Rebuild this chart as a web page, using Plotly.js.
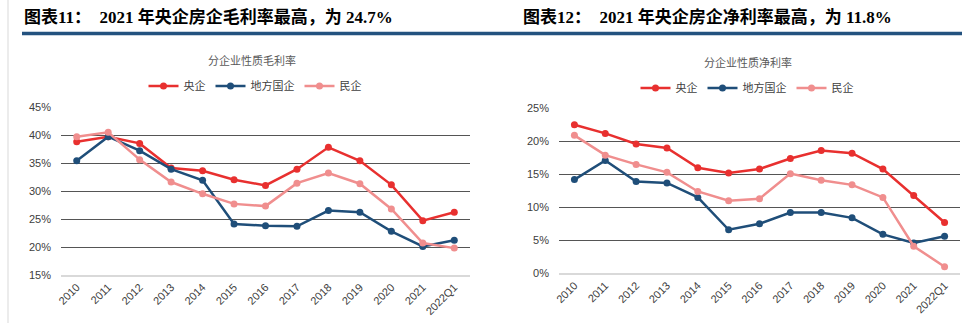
<!DOCTYPE html>
<html>
<head>
<meta charset="utf-8">
<script src="https://cdn.plot.ly/plotly-3.0.1.min.js"></script>
<style>html,body{margin:0;padding:0;background:#fff;}#chart{width:962px;height:323px;}</style>
</head>
<body>
<div id="chart"></div>
<script>
// ---- data ----
const categories = ['2010','2011','2012','2013','2014','2015','2016','2017','2018','2019','2020','2021','2022Q1'];
const seriesNames = ['央企','地方国企','民企'];

// 毛利率 (%)
const grossCentral = [38.8, 39.7, 38.5, 34.1, 33.6, 32.0, 31.0, 33.9, 37.8, 35.4, 31.1, 24.7, 26.2];
const grossLocal   = [35.4, 39.7, 37.2, 33.9, 31.9, 24.1, 23.8, 23.7, 26.5, 26.2, 22.8, 20.1, 21.2];
const grossPrivate = [39.7, 40.5, 35.6, 31.6, 29.5, 27.7, 27.3, 31.4, 33.2, 31.3, 26.8, 20.7, 19.8];

// 净利率 (%)
const netCentral = [22.5, 21.2, 19.6, 19.0, 16.0, 15.2, 15.8, 17.4, 18.6, 18.2, 15.8, 11.8, 7.7];
const netLocal   = [14.2, 17.1, 13.9, 13.7, 11.5, 6.6, 7.5, 9.2, 9.2, 8.4, 5.9, 4.6, 5.6];
const netPrivate = [20.9, 17.9, 16.5, 15.3, 12.4, 11.0, 11.3, 15.1, 14.1, 13.4, 11.5, 4.1, 1.0];

const titles = ['图表11：  2021 年央企房企毛利率最高，为 24.7%', '图表12：  2021 年央企房企净利率最高，为 11.8%'];
const subtitles = ['分企业性质毛利率', '分企业性质净利率'];

// ---- style ----
const colors = ['#E8302F', '#1F4E79', '#F08E8E'];
const W = 962, H = 323;
const px = v => v / W, py = v => (H - v) / H;

function mk(y, i, xa, ya, lg) {
  return {
    x: categories, y: y, name: seriesNames[i], type: 'scatter', mode: 'lines+markers',
    xaxis: xa, yaxis: ya, legend: lg,
    line: {color: colors[i], width: 2.5},
    marker: {color: colors[i], size: 7},
    hoverinfo: 'skip'
  };
}

const traces = [
  mk(grossCentral, 0, 'x', 'y', 'legend'),
  mk(grossLocal, 1, 'x', 'y', 'legend'),
  mk(grossPrivate, 2, 'x', 'y', 'legend'),
  mk(netCentral, 0, 'x2', 'y2', 'legend2'),
  mk(netLocal, 1, 'x2', 'y2', 'legend2'),
  mk(netPrivate, 2, 'x2', 'y2', 'legend2')
];

const tickFont = {family: 'Liberation Sans, Arial, sans-serif', size: 11, color: '#404040'};
function xax(dom, anchor) {
  return {domain: dom, anchor: anchor, type: 'category', range: [-0.5, categories.length - 0.5],
    tickangle: -45, tickfont: tickFont,
    showgrid: false, showline: true, linecolor: '#d9d9d9', linewidth: 1.5, ticks: '', fixedrange: true, layer: 'above traces'};
}
function yax(dom, anchor, range) {
  return {domain: dom, anchor: anchor, range: range, dtick: 5, ticksuffix: '%', tickfont: tickFont,
    showgrid: true, gridcolor: '#555555', gridwidth: 1, zeroline: false, showline: false,
    ticks: '', ticklabelstandoff: 9, fixedrange: true};
}

const titleFont = {family: 'Liberation Serif, Noto Sans CJK SC, serif', size: 17, color: '#000', weight: 'bold'};
const subFont = {family: 'Noto Sans CJK SC, sans-serif', size: 11, color: '#595959'};
const legendFont = {family: 'Noto Sans CJK SC, sans-serif', size: 11, color: '#404040'};

const layout = {
  width: W, height: H,
  margin: {l: 0, r: 0, t: 0, b: 0},
  paper_bgcolor: '#fff', plot_bgcolor: '#fff',
  showlegend: true,
  xaxis: xax([px(61), px(470)], 'y'),
  yaxis: yax([py(275), py(107)], 'x', [15, 45]),
  xaxis2: xax([px(559), px(960)], 'y2'),
  yaxis2: yax([py(273.3), py(108.3)], 'x2', [0, 25]),
  legend: {orientation: 'h', x: px(255), y: py(86), xanchor: 'center', yanchor: 'middle',
    font: legendFont, itemwidth: 30, bgcolor: 'rgba(0,0,0,0)', tracegroupgap: 0},
  legend2: {orientation: 'h', x: px(747), y: py(88), xanchor: 'center', yanchor: 'middle',
    font: legendFont, itemwidth: 30, bgcolor: 'rgba(0,0,0,0)', tracegroupgap: 0},
  annotations: [
    {text: titles[0], xref: 'paper', yref: 'paper', x: px(22), y: py(17), xanchor: 'left', yanchor: 'middle', showarrow: false, font: titleFont},
    {text: titles[1], xref: 'paper', yref: 'paper', x: px(521), y: py(17), xanchor: 'left', yanchor: 'middle', showarrow: false, font: titleFont},
    {text: subtitles[0], xref: 'paper', yref: 'paper', x: px(252), y: py(60), xanchor: 'center', yanchor: 'middle', showarrow: false, font: subFont},
    {text: subtitles[1], xref: 'paper', yref: 'paper', x: px(748), y: py(62), xanchor: 'center', yanchor: 'middle', showarrow: false, font: subFont}
  ],
  shapes: [
    {type: 'rect', xref: 'paper', yref: 'paper', x0: px(22), x1: 1, y0: py(35.3), y1: py(31.8), fillcolor: '#23527F', line: {width: 0}},
    {type: 'line', xref: 'paper', yref: 'paper', x0: px(8), x1: px(8), y0: 0, y1: 1, line: {color: '#d9d9d9', width: 1}}
  ]
};

Plotly.newPlot('chart', traces, layout, {staticPlot: true, displayModeBar: false});
</script>
</body>
</html>
